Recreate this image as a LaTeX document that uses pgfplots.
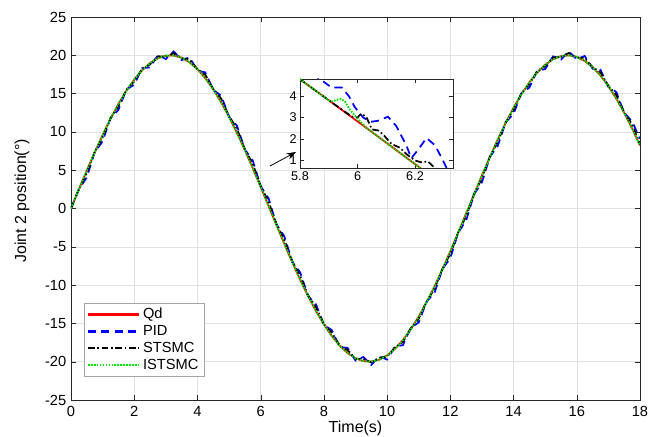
\documentclass[border=0pt]{standalone}
\usepackage{pgfplots}
\pgfplotsset{compat=1.18}
\usepackage{fontspec}
\setmainfont{Liberation Sans}
\usetikzlibrary{arrows.meta}
\definecolor{gridc}{RGB}{225,225,225}
\definecolor{axc}{RGB}{38,38,38}
\definecolor{mgreen}{RGB}{0,230,0}
\tikzset{
  qdst/.style={draw=red, line width=1.3pt, solid},
  pidst/.style={draw=blue, line width=1.3pt, dash pattern=on 6pt off 4pt},
  stst/.style={draw=black, line width=1.3pt, dash pattern=on 5pt off 2pt on 1.2pt off 2pt},
  isst/.style={draw=mgreen, line width=1.4pt, dash pattern=on 1.2pt off 1pt},
}
\begin{document}
\begin{tikzpicture}[font=\fontsize{11}{13}\selectfont]
\begin{axis}[name=main,
  scale only axis, width=426.75pt, height=287.25pt,
  xmin=0, xmax=18, ymin=-25, ymax=25,
  xtick={0,2,...,18}, ytick={-25,-20,...,25},
  grid=major, major grid style={gridc, line width=0.4pt},
  axis line style={axc}, tick style={axc}, tick align=inside,
  major tick length=4pt,
  /pgf/number format/assume math mode=true,
  ticklabel style={font=\fontsize{11}{13}\selectfont},
  xticklabel style={yshift=-1pt},
  xlabel={Time(s)}, ylabel={Joint 2 position(°)},
  xlabel style={font=\fontsize{12}{14}\selectfont, at={(axis description cs:0.5,-0.073)}, anchor=center},
  ylabel style={font=\fontsize{12}{14}\selectfont, at={(axis description cs:-0.086,0.52)}, anchor=center},
  legend style={at={(0.023,0.06)}, anchor=south west, fill=white,
    font=\fontsize{11}{13}\selectfont, row sep=-0.5pt, inner sep=2pt},
  every axis legend/.append style={draw=gray!70},
  legend cell align=left,
  legend image code/.code={\draw[#1, line width=1.6pt] (0cm,0cm) -- (1.35cm,0cm);},
]
\addplot[qdst, forget plot] coordinates {
(0,0) (0.25,2.493) (0.5,4.948) (0.75,7.325) (1,9.589) (1.25,11.702) (1.5,13.633) (1.75,15.351)
(2,16.829) (2.25,18.045) (2.5,18.980) (2.75,19.618) (3,19.950) (3.25,19.971) (3.5,19.680) (3.75,19.082)
(4,18.186) (4.25,17.006) (4.5,15.561) (4.75,13.874) (5,11.969) (5.25,9.878) (5.5,7.633) (5.75,5.269)
(6,2.822) (6.25,0.332) (6.5,-2.164) (6.75,-4.626) (7,-7.016) (7.25,-9.297) (7.5,-11.431) (7.75,-13.386)
(8,-15.136) (8.25,-16.647) (8.5,-17.900) (8.75,-18.868) (9,-19.551) (9.25,-19.923) (9.5,-19.986) (9.75,-19.737)
(10,-19.178) (10.25,-18.321) (10.5,-17.179) (10.75,-15.761) (11,-14.111) (11.25,-12.239) (11.5,-10.175) (11.75,-7.939)
(12,-5.588) (12.25,-3.151) (12.5,-0.664) (12.75,1.834) (13,4.302) (13.25,6.704) (13.5,9.002) (13.75,11.158)
(14,13.140) (14.25,14.915) (14.5,16.462) (14.75,17.752) (15,18.760) (15.25,19.477) (15.5,19.890) (15.75,19.995)
(16,19.787) (16.25,19.272) (16.5,18.459) (16.75,17.359) (17,15.970) (17.25,14.357) (17.5,12.487) (17.75,10.454) (18,8.242)
};
\addplot[pidst, forget plot] coordinates {
(0,0) (0.25,2.50) (0.5,4.06) (0.75,7.36) (1,8.75) (1.25,11.80) (1.5,12.87) (1.75,15.53)
(2,16.16) (2.25,18.33) (2.5,18.42) (2.75,20.02) (3,19.51) (3.25,20.50) (3.5,19.37) (3.75,19.73)
(4,17.99) (4.25,17.77) (4.5,15.48) (4.75,14.73) (5,11.97) (5.25,10.81) (5.5,7.70) (5.75,6.25)
(6,2.92) (6.25,1.33) (6.5,-2.07) (6.75,-3.64) (7,-6.95) (7.25,-8.35) (7.5,-11.42) (7.75,-12.51)
(8,-15.21) (8.25,-15.87) (8.5,-18.08) (8.75,-18.20) (9,-19.85) (9.25,-19.38) (9.5,-20.41) (9.75,-19.32)
(10,-19.72) (10.25,-18.02) (10.5,-17.84) (10.75,-15.57) (11,-14.87) (11.25,-12.14) (11.5,-11.01) (11.75,-7.90)
(12,-6.47) (12.25,-3.15) (12.5,-1.56) (12.75,1.84) (13,3.41) (13.25,6.73) (13.5,8.16) (13.75,11.24)
(14,12.36) (14.25,15.08) (14.5,15.78) (14.75,18.02) (15,18.19) (15.25,19.86) (15.5,19.44) (15.75,20.51)
(16,19.46) (16.25,19.91) (16.5,18.25) (16.75,18.11) (17,15.87) (17.25,15.21) (17.5,12.48) (17.75,11.38) (18,9.10)
};
\addplot[stst, forget plot] coordinates {
(0,0) (0.25,2.54) (0.5,4.61) (0.75,7.39) (1,9.27) (1.25,11.80) (1.5,13.35) (1.75,15.49)
(2,16.59) (2.25,18.24) (2.5,18.80) (2.75,19.87) (3,19.83) (3.25,20.28) (3.5,19.62) (3.75,19.46)
(4,18.19) (4.25,17.44) (4.5,15.62) (4.75,14.35) (5,12.07) (5.25,10.40) (5.5,7.76) (5.75,5.81)
(6,2.97) (6.25,0.88) (6.5,-2.01) (6.75,-4.09) (7,-6.88) (7.25,-8.78) (7.5,-11.33) (7.75,-12.90)
(8,-15.07) (8.25,-16.21) (8.5,-17.89) (8.75,-18.49) (9,-19.60) (9.25,-19.60) (9.5,-20.10) (9.75,-19.48)
(10,-19.35) (10.25,-18.12) (10.5,-17.41) (10.75,-15.61) (11,-14.39) (11.25,-12.14) (11.5,-10.49) (11.75,-7.87)
(12,-5.93) (12.25,-3.10) (12.5,-1.01) (12.75,1.88) (13,3.96) (13.25,6.77) (13.5,8.68) (13.75,11.25)
(14,12.85) (14.25,15.05) (14.5,16.22) (14.75,17.94) (15,18.57) (15.25,19.72) (15.5,19.76) (15.75,20.31)
(16,19.72) (16.25,19.64) (16.5,18.46) (16.75,17.78) (17,16.02) (17.25,14.83) (17.5,12.59) (17.75,10.96) (18,8.37)
};
\addplot[isst, forget plot] coordinates {
(0,0) (0.25,2.50) (0.5,4.96) (0.75,7.32) (1,9.60) (1.25,11.70) (1.5,13.64) (1.75,15.35)
(2,16.84) (2.25,18.04) (2.5,18.99) (2.75,19.62) (3,19.96) (3.25,19.97) (3.5,19.69) (3.75,19.08)
(4,18.20) (4.25,17.01) (4.5,15.58) (4.75,13.88) (5,11.99) (5.25,9.89) (5.5,7.65) (5.75,5.28)
(6,2.84) (6.25,0.34) (6.5,-2.15) (6.75,-4.62) (7,-7.00) (7.25,-9.29) (7.5,-11.42) (7.75,-13.38)
(8,-15.13) (8.25,-16.64) (8.5,-17.89) (8.75,-18.87) (9,-19.55) (9.25,-19.93) (9.5,-19.99) (9.75,-19.74)
(10,-19.19) (10.25,-18.33) (10.5,-17.19) (10.75,-15.77) (11,-14.12) (11.25,-12.25) (11.5,-10.18) (11.75,-7.94)
(12,-5.59) (12.25,-3.15) (12.5,-0.66) (12.75,1.83) (13,4.30) (13.25,6.70) (13.5,9.00) (13.75,11.16)
(14,13.14) (14.25,14.91) (14.5,16.46) (14.75,17.75) (15,18.76) (15.25,19.48) (15.5,19.89) (15.75,20.00)
(16,19.79) (16.25,19.27) (16.5,18.46) (16.75,17.36) (17,15.97) (17.25,14.36) (17.5,12.49) (17.75,10.46) (18,8.25)
};
\addlegendimage{qdst}
\addlegendentry{Qd}
\addlegendimage{pidst}
\addlegendentry{PID}
\addlegendimage{stst}
\addlegendentry{STSMC}
\addlegendimage{isst}
\addlegendentry{ISTSMC}
\end{axis}
\draw[black, line width=0.6pt, -{Stealth[length=7pt,width=5pt]}] ([xshift=149.25pt,yshift=175.5pt]main.south west) -- ([xshift=168.75pt,yshift=186pt]main.south west);
\begin{axis}[at={(main.south west)}, anchor=south west, xshift=171.75pt, yshift=174pt,
  scale only axis, width=114.75pt, height=66.75pt,
  xmin=5.8, xmax=6.332, ymin=0.65, ymax=4.8,
  xtick={5.8,6,6.2}, ytick={1,2,3,4},
  axis line style={axc}, tick style={axc}, tick align=inside, major tick length=3pt,
  axis background/.style={fill=white},
  /pgf/number format/assume math mode=true,
  ticklabel style={font=\fontsize{9.5}{11}\selectfont},
  xticklabel style={yshift=1pt}, yticklabel style={xshift=1pt},
]
\addplot[qdst] coordinates {
(5.8,4.785) (5.85,4.298) (5.9,3.808) (5.95,3.316) (6,2.822) (6.05,2.327) (6.1,1.829) (6.15,1.331) (6.2,0.832) (6.25,0.332) (6.3,-0.168)
};
\addplot[pidst] coordinates {
(5.8,5.3) (5.864,4.85) (5.91,4.4) (5.945,4.4) (5.97,4.0) (5.99,3.5) (6.02,3.0) (6.045,2.8) (6.07,2.85) (6.106,3.04) (6.135,2.6) (6.17,1.7) (6.187,1.1) (6.216,1.6) (6.24,2.05) (6.27,1.7) (6.297,1.0) (6.31,0.65)
};
\addplot[stst] coordinates {
(5.8,4.785) (5.85,4.298) (5.9,3.808) (5.95,3.33) (5.98,3.05) (6.0,3.0) (6.012,3.18) (6.03,3.05) (6.05,2.45) (6.072,2.4) (6.09,2.2) (6.118,1.77) (6.147,1.6) (6.17,1.3) (6.2,1.0) (6.22,0.92) (6.245,0.95) (6.265,0.7) (6.3,0.3)
};
\addplot[isst] coordinates {
(5.8,4.785) (5.85,4.298) (5.9,3.808) (5.91,3.76) (5.94,3.87) (5.955,3.78) (5.97,3.43) (6.0,2.95) (6.03,2.55) (6.05,2.33) (6.1,1.83) (6.15,1.33) (6.2,0.83) (6.25,0.33)
};
\end{axis}
\pgfresetboundingbox
\path ([xshift=-53.25pt,yshift=-27pt]main.south west) rectangle ([xshift=7.5pt,yshift=12.75pt]main.north east);
\end{tikzpicture}
\end{document}
